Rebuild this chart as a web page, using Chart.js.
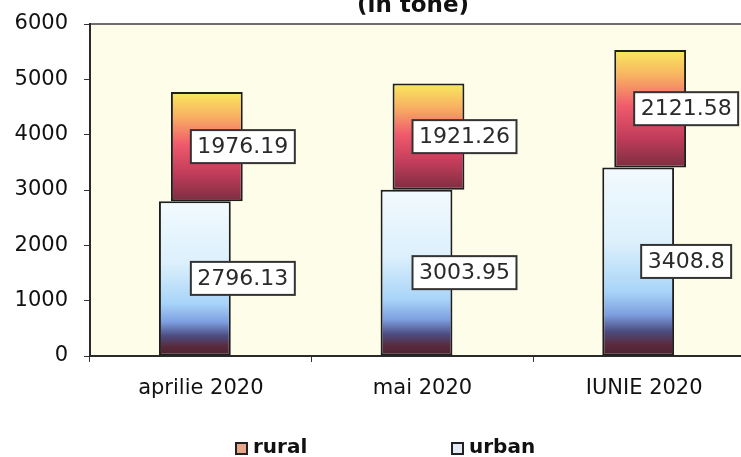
<!DOCTYPE html>
<html>
<head>
<meta charset="utf-8">
<script src="https://cdn.jsdelivr.net/npm/chart.js@4.4.1/dist/chart.umd.min.js"></script>
<style>
  body { margin: 0; background: #fff; overflow: hidden; }
  #wrap { position: relative; width: 741px; height: 457px; overflow: hidden; }
  #title { position: absolute; left: 357px; top: -7px; font: bold 23px "DejaVu Sans"; line-height: 23px; color: #111; white-space: nowrap; }
  .lg-box { position: absolute; top: 442px; width: 9px; height: 9px; border: 2px solid #222; }
  .lg-txt { position: absolute; top: 436px; font: bold 20px "DejaVu Sans"; line-height: 20px; color: #111; }
</style>
</head>
<body>
<div id="wrap">
  <canvas id="chart" width="756" height="457"></canvas>
  <div id="title">(in tone)</div>
  <div class="lg-box" style="left:235px; background:#e9a78a;"></div>
  <div class="lg-txt" style="left:253px;">rural</div>
  <div class="lg-box" style="left:451px; background:#e4ebf2;"></div>
  <div class="lg-txt" style="left:469px;">urban</div>
</div>
<script>
// values
const months = ['aprilie 2020', 'mai 2020', 'IUNIE 2020'];
const urban = [2796.13, 3003.95, 3408.8];
const rural = [1976.19, 1921.26, 2121.58];
const yTicks = [0, 1000, 2000, 3000, 4000, 5000, 6000];

// gradient fill for one bar segment, from its pixel extent
function segmentGradient(ctx, stops) {
    const chart = ctx.chart;
    if (!chart.chartArea || !ctx.raw) return stops[0][1];
    const y = chart.scales.y;
    const top = y.getPixelForValue(ctx.raw[1]);
    const bottom = y.getPixelForValue(ctx.raw[0]);
    const g = chart.ctx.createLinearGradient(0, top, 0, bottom);
    stops.forEach(s => g.addColorStop(s[0], s[1]));
    return g;
}

const urbanStops = [[0, '#f2fafe'], [0.4, '#dcf0fc'], [0.66, '#a8d4f8'], [0.78, '#7e9fe0'], [0.87, '#4c4c80'], [0.94, '#5a2a3c'], [1, '#4a2230']];
const ruralStops = [[0, '#f8ea5c'], [0.22, '#f8b262'], [0.48, '#f05a6c'], [0.75, '#c03c5a'], [1, '#7c2e40']];

// plot background and top frame line
const plotFrame = {
    id: 'plotFrame',
    beforeDraw(chart) {
        const { ctx, chartArea: a } = chart;
        ctx.save();
        ctx.fillStyle = '#fdfdea';
        ctx.fillRect(a.left, a.top, a.right - a.left, a.bottom - a.top);
        ctx.strokeStyle = '#6e6e6e';
        ctx.lineWidth = 2;
        ctx.beginPath();
        ctx.moveTo(a.left, a.top);
        ctx.lineTo(a.right, a.top);
        ctx.stroke();
        ctx.restore();
    }
};

// boxed value labels
const valueBoxes = {
    id: 'valueBoxes',
    afterDatasetsDraw(chart) {
        const { ctx } = chart;
        const xs = chart.scales.x;
        ctx.save();
        ctx.font = '22px "DejaVu Sans"';
        ctx.textAlign = 'center';
        ctx.textBaseline = 'middle';
        chart.data.datasets.forEach((ds, di) => {
            chart.getDatasetMeta(di).data.forEach((el, i) => {
                const text = String(ds.values[i]);
                const cx = xs.getPixelForValue(i) + 42;
                const cy = (el.y + el.base) / 2;
                const w = ctx.measureText(text).width + 13;
                const h = 33;
                ctx.fillStyle = '#ffffff';
                ctx.fillRect(cx - w / 2, cy - h / 2, w, h);
                ctx.strokeStyle = '#333333';
                ctx.lineWidth = 2;
                ctx.strokeRect(cx - w / 2, cy - h / 2, w, h);
                ctx.fillStyle = '#2a2a2a';
                ctx.fillText(text, cx, cy + 1);
            });
        });
        ctx.restore();
    }
};

new Chart(document.getElementById('chart'), {
    type: 'bar',
    data: {
        labels: months,
        datasets: [
            {
                label: 'urban',
                values: urban,
                data: urban.map(v => [0, v]),
                backgroundColor: c => segmentGradient(c, urbanStops),
                borderColor: '#1e1e1e',
                borderWidth: 2,
                borderSkipped: false
            },
            {
                label: 'rural',
                values: rural,
                data: rural.map((v, i) => [urban[i], urban[i] + v]),
                backgroundColor: c => segmentGradient(c, ruralStops),
                borderColor: '#1e1e1e',
                borderWidth: 2,
                borderSkipped: false
            }
        ]
    },
    options: {
        responsive: false,
        animation: false,
        categoryPercentage: 0.108,
        barPercentage: 6,
        layout: { padding: { top: 24, right: 1, left: 0, bottom: 0 } },
        plugins: {
            legend: { display: false },
            tooltip: { enabled: false }
        },
        scales: {
            x: {
                afterFit: s => { s.height = 101; },
                grid: { display: true, drawOnChartArea: false, tickLength: 6, color: '#333', offset: true },
                border: { color: '#2a2a2a', width: 2 },
                ticks: { color: '#111', padding: 14, font: { family: 'DejaVu Sans', size: 21 } }
            },
            y: {
                min: 0,
                max: 6000,
                afterFit: s => { s.width = 90; s.paddingTop = 0; s.paddingBottom = 0; },
                afterBuildTicks: s => { s.ticks = yTicks.map(v => ({ value: v })); },
                grid: { display: true, drawOnChartArea: false, tickLength: 6, color: '#333' },
                border: { color: '#2a2a2a', width: 2 },
                ticks: { color: '#111', padding: 16, font: { family: 'DejaVu Sans', size: 21 }, callback: v => String(v) }
            }
        }
    },
    plugins: [plotFrame, valueBoxes]
});
</script>
</body>
</html>
